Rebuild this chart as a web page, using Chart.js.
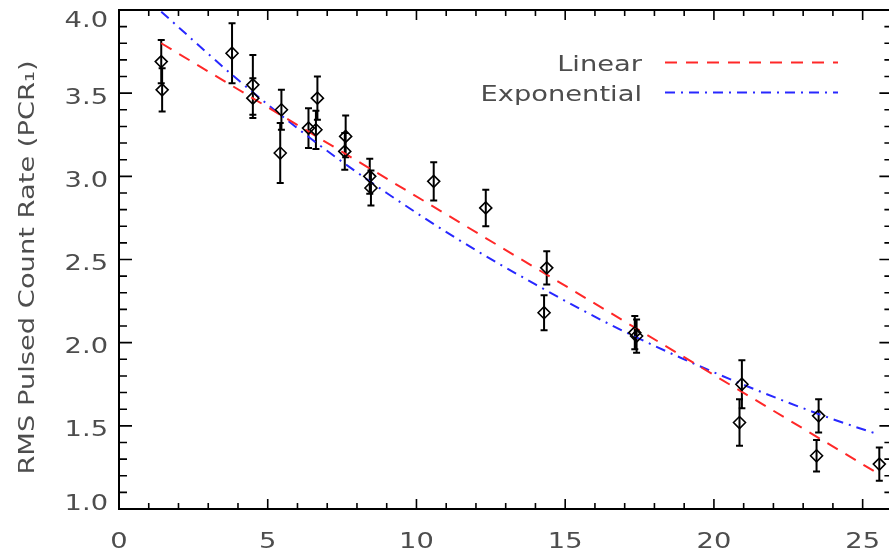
<!DOCTYPE html>
<html>
<head>
<meta charset="utf-8">
<title>RMS Pulsed Count Rate</title>
<script src="https://cdn.jsdelivr.net/npm/chart.js@4.4.0/dist/chart.umd.min.js"></script>
<style>
  html, body { margin: 0; padding: 0; background: #fff; overflow: hidden; }
  #wrap { position: absolute; left: 0; top: 0; width: 900px; height: 553px; }
</style>
</head>
<body>
<div id="wrap"><canvas id="rateChart" width="900" height="553"></canvas></div>
<script>
// measured points: x, rate and 1-sigma error
const obsX = [1.42, 1.45, 3.80, 4.50, 4.50, 5.46, 5.42, 6.37, 6.62, 6.67, 7.62, 7.59, 8.43,
  8.47, 10.58, 12.33, 14.38, 14.29, 17.34, 17.40, 20.94, 20.86, 23.52, 23.45, 25.56];
const obsRate = [3.69, 3.52, 3.74, 3.55, 3.47, 3.40, 3.14, 3.29, 3.28, 3.47, 3.24, 3.15, 3.00,
  2.93, 2.97, 2.81, 2.45, 2.18, 2.06, 2.04, 1.75, 1.52, 1.56, 1.32, 1.27];
const obsErr = [0.13, 0.13, 0.18, 0.18, 0.12, 0.12, 0.18, 0.12, 0.115, 0.13, 0.125, 0.11, 0.105,
  0.105, 0.115, 0.11, 0.10, 0.105, 0.10, 0.10, 0.145, 0.14, 0.10, 0.095, 0.10];

// fitted curves
const linX = [1.42, 25.5];
const linY = [3.80, 1.215];
const expX = [1.42, 4, 6.5, 9, 11.5, 14, 16.5, 19, 21.5, 24, 25.5];
const expY = [3.99, 3.58, 3.22, 2.90, 2.61, 2.35, 2.11, 1.90, 1.71, 1.54, 1.45];

const xLabelTicks = [0, 5, 10, 15, 20, 25];
const yLabelTicks = [1.0, 1.5, 2.0, 2.5, 3.0, 3.5, 4.0];
const yTitle = "RMS Pulsed Count Rate (PCR\u2081)";

const FONT = "21px 'DejaVu Sans', sans-serif";
const TEXT = "#4d4d4d";
const STRETCH = 1.3; // the IDL font is much wider than DejaVu

function isMajor(list, v) {
  return list.some(t => Math.abs(t - v) < 1e-6);
}

function toPoints(xs, ys) {
  return xs.map((v, i) => ({ x: v, y: ys[i] }));
}

function wideText(ctx, text, x, y, align, upright) {
  ctx.save();
  ctx.translate(x, y);
  if (upright) ctx.rotate(-Math.PI / 2);
  ctx.scale(STRETCH, 1);
  ctx.textAlign = align;
  ctx.fillText(text, 0, 0);
  ctx.restore();
}

function drawErrorBars(chart) {
  const { ctx, scales: { x, y } } = chart;
  ctx.save();
  ctx.strokeStyle = "#000";
  ctx.lineWidth = 2;
  ctx.beginPath();
  obsX.forEach((v, i) => {
    const px = x.getPixelForValue(v);
    const top = y.getPixelForValue(obsRate[i] + obsErr[i]);
    const bot = y.getPixelForValue(obsRate[i] - obsErr[i]);
    ctx.moveTo(px, top); ctx.lineTo(px, bot);
    ctx.moveTo(px - 3.5, top); ctx.lineTo(px + 3.5, top);
    ctx.moveTo(px - 3.5, bot); ctx.lineTo(px + 3.5, bot);
  });
  ctx.stroke();
  ctx.restore();
}

// IDL style box with inward ticks on all four sides, plus the labels
function drawFrame(chart) {
  const { ctx, chartArea: a, scales: { x, y } } = chart;
  ctx.save();
  ctx.strokeStyle = "#000";
  ctx.lineWidth = 2;
  ctx.strokeRect(a.left, a.top, a.right - a.left, a.bottom - a.top);
  ctx.lineWidth = 1.6;
  ctx.beginPath();
  x.ticks.forEach(t => {
    const px = x.getPixelForValue(t.value);
    const len = isMajor(xLabelTicks, t.value) ? 10 : 6;
    ctx.moveTo(px, a.bottom); ctx.lineTo(px, a.bottom - len);
    ctx.moveTo(px, a.top); ctx.lineTo(px, a.top + len);
  });
  y.ticks.forEach(t => {
    const py = y.getPixelForValue(t.value);
    const len = isMajor(yLabelTicks, t.value) ? 13 : 8;
    ctx.moveTo(a.left, py); ctx.lineTo(a.left + len, py);
    ctx.moveTo(a.right, py); ctx.lineTo(a.right - len, py);
  });
  ctx.stroke();

  ctx.font = FONT;
  ctx.fillStyle = TEXT;
  ctx.textBaseline = "alphabetic";
  xLabelTicks.forEach(v => {
    wideText(ctx, String(v), x.getPixelForValue(v), a.bottom + 39, "center");
  });
  yLabelTicks.forEach(v => {
    // IDL pulls the end labels inside the axis range
    const mid = Math.min(Math.max(y.getPixelForValue(v) + 3, a.top + 9.5), a.bottom - 7);
    wideText(ctx, v.toFixed(1), a.left - 11, mid + 7.6, "right");
  });
  wideText(ctx, yTitle, 33.5, (a.top + a.bottom) / 2 + 8, "center", true);
  ctx.restore();
}

function drawLegend(chart) {
  const ctx = chart.ctx;
  const rows = chart.data.datasets.filter(d => d.showLine);
  ctx.save();
  ctx.font = FONT;
  ctx.fillStyle = TEXT;
  ctx.textBaseline = "alphabetic";
  rows.forEach((d, i) => {
    const base = 71 + i * 30;
    wideText(ctx, d.label, 642, base, "right");
    ctx.strokeStyle = d.borderColor;
    ctx.lineWidth = d.borderWidth;
    ctx.setLineDash(d.borderDash);
    ctx.beginPath();
    ctx.moveTo(665, base - 8.5);
    ctx.lineTo(838, base - 8.5);
    ctx.stroke();
  });
  ctx.restore();
}

const idlAxes = {
  id: "idlAxes",
  beforeDatasetsDraw(chart) { drawErrorBars(chart); },
  afterDraw(chart) { drawFrame(chart); drawLegend(chart); }
};

new Chart(document.getElementById("rateChart"), {
  type: "scatter",
  data: {
    datasets: [{
      label: "Data",
      data: toPoints(obsX, obsRate),
      pointStyle: "rectRot",
      pointRadius: 6,
      pointBorderWidth: 1.6,
      pointBorderColor: "#000",
      pointBackgroundColor: "rgba(0,0,0,0)"
    }, {
      label: "Linear",
      data: toPoints(linX, linY),
      showLine: true,
      borderColor: "rgb(255,40,40)",
      borderWidth: 2,
      borderDash: [12, 9],
      pointRadius: 0
    }, {
      label: "Exponential",
      data: toPoints(expX, expY),
      showLine: true,
      cubicInterpolationMode: "monotone",
      borderColor: "rgb(40,40,255)",
      borderWidth: 2,
      borderDash: [10, 6, 2, 6],
      pointRadius: 0
    }]
  },
  options: {
    responsive: false,
    animation: false,
    devicePixelRatio: 1,
    layout: { padding: { left: 0, top: 10, right: 6, bottom: 0 } },
    plugins: { legend: { display: false }, tooltip: { enabled: false } },
    scales: {
      x: {
        type: "linear",
        min: 0,
        max: 26,
        grid: { display: false },
        border: { display: false },
        ticks: { stepSize: 1, autoSkip: false, display: false },
        afterFit(scale) {
          scale.height = 44;
          scale.paddingLeft = 0;
          scale.paddingRight = 0;
        }
      },
      y: {
        min: 1,
        max: 4,
        grid: { display: false },
        border: { display: false },
        ticks: { stepSize: 0.1, autoSkip: false, display: false },
        afterFit(scale) {
          scale.width = 119;
          scale.paddingTop = 0;
          scale.paddingBottom = 0;
        }
      }
    }
  },
  plugins: [idlAxes]
});
</script>
</body>
</html>
